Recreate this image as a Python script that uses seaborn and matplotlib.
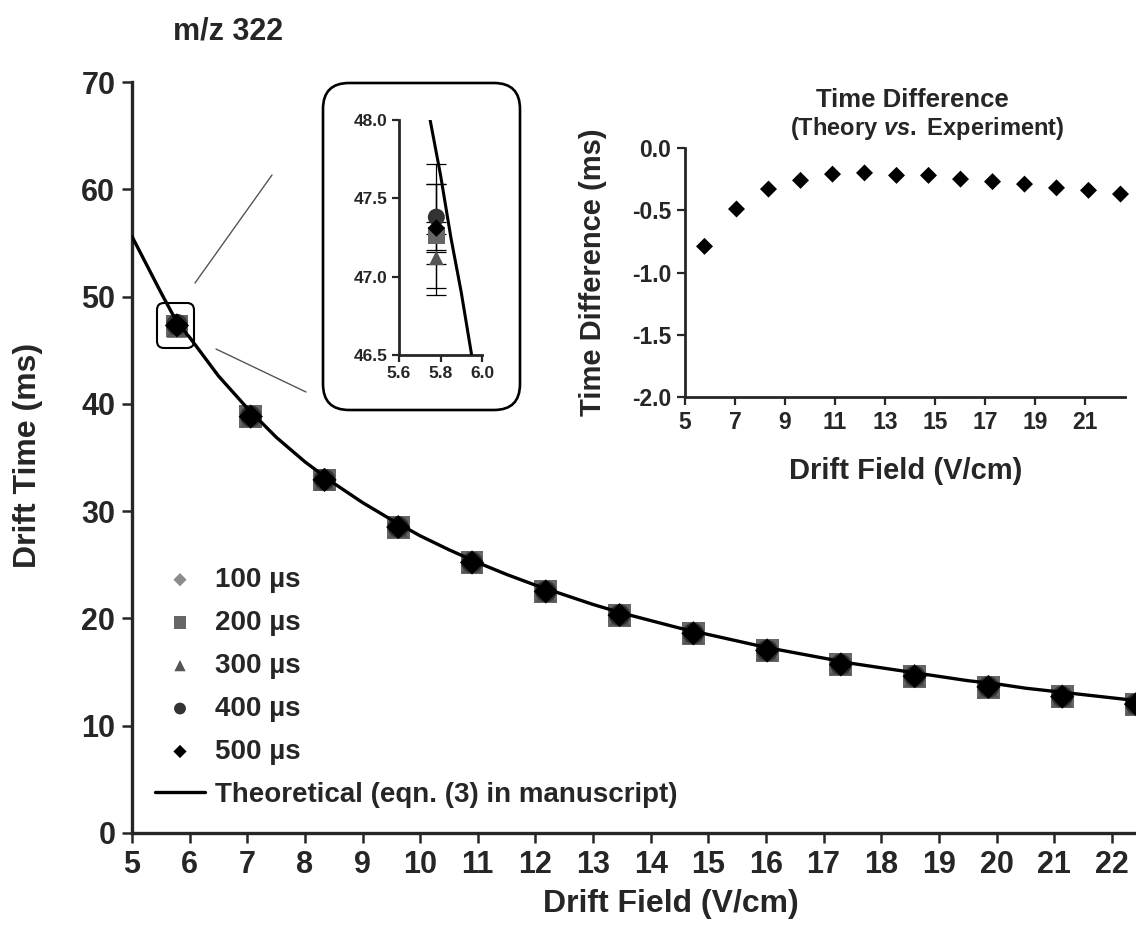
import numpy as np
import pandas as pd
import seaborn as sns
import matplotlib
matplotlib.use("Agg")
import matplotlib.pyplot as plt
from matplotlib.patches import FancyBboxPatch
from matplotlib.lines import Line2D

sns.set_theme(style="ticks")
plt.rcParams['font.family'] = ['Liberation Sans', 'DejaVu Sans']
plt.rcParams['font.weight'] = 'bold'
plt.rcParams['mathtext.fontset'] = 'custom'
plt.rcParams['mathtext.it'] = 'Liberation Sans:italic:bold'
plt.rcParams['mathtext.rm'] = 'Liberation Sans:bold'

# drift field (V/cm)
field = [5.78, 7.06, 8.34, 9.62, 10.90, 12.18, 13.46, 14.74, 16.02, 17.30, 18.58, 19.86, 21.14, 22.42]

# drift times (ms) for each pulse width
t100 = [47.30, 38.82, 32.92, 28.52, 25.22, 22.52, 20.32, 18.62, 17.02, 15.72, 14.62, 13.62, 12.72, 12.02]
t200 = [47.26, 38.80, 32.90, 28.50, 25.20, 22.50, 20.30, 18.60, 17.00, 15.70, 14.60, 13.60, 12.70, 12.00]
t300 = [47.12, 38.75, 32.86, 28.47, 25.18, 22.48, 20.28, 18.58, 16.98, 15.68, 14.58, 13.58, 12.68, 11.98]
t400 = [47.38, 38.85, 32.94, 28.53, 25.22, 22.52, 20.31, 18.61, 17.01, 15.71, 14.61, 13.61, 12.71, 12.01]
t500 = [47.31, 38.81, 32.91, 28.51, 25.21, 22.51, 20.31, 18.61, 17.01, 15.71, 14.61, 13.61, 12.71, 12.01]

# std dev at the first field (only visible in the zoom inset)
err_first = [0.42, 0.33, 0.04, 0.21, 0.04]

# theoretical curve
theo_x = [5.0, 5.5, 5.7, 5.75, 5.8, 5.85, 5.9, 5.95, 6.0, 6.5, 7.0, 7.5, 8.0, 8.5, 9.0, 9.5, 10.0, 10.5,
          11.0, 11.5, 12.0, 12.5, 13.0, 13.5, 14.0, 14.5, 15.0, 15.5, 16.0, 16.5, 17.0, 17.5,
          18.0, 18.5, 19.0, 19.5, 20.0, 20.5, 21.0, 21.5, 22.0, 22.5]
theo_t = [55.6, 50.4, 48.4, 48.0, 47.65, 47.25, 46.9, 46.5, 46.2, 42.6, 39.6, 36.9, 34.6, 32.6, 30.8, 29.2, 27.7, 26.4,
          25.2, 24.1, 23.1, 22.2, 21.3, 20.5, 19.8, 19.1, 18.5, 17.9, 17.3, 16.8, 16.3, 15.8,
          15.4, 15.0, 14.6, 14.2, 13.9, 13.5, 13.2, 12.9, 12.6, 12.3]

# experiment - theory (ms)
time_diff = [-0.79, -0.49, -0.33, -0.26, -0.21, -0.20, -0.22, -0.22, -0.25, -0.27, -0.29, -0.32, -0.34, -0.37]

labels = ["100 µs", "200 µs", "300 µs", "400 µs", "500 µs"]
series = [t100, t200, t300, t400, t500]
markers = ["D", "s", "^", "o", "D"]
colors = ["#8c8c8c", "#666666", "#555555", "#333333", "#000000"]
main_sizes = [150, 270, 220, 240, 150]
inset_sizes = [70, 150, 110, 150, 80]

W, H = 1136, 932
fig = plt.figure(figsize=(W / 100, H / 100), dpi=100)

def fx(px):
    return px / W

def fy(py):
    return (H - py) / H

# ---------------- main plot
ax = fig.add_axes([fx(132), fy(833), fx(1136) - fx(132), fy(82) - fy(833)])
for lab, t, m, c, s in zip(labels, series, markers, colors, main_sizes):
    sns.scatterplot(x=field, y=t, marker=m, color=c, s=s, edgecolor="none", ax=ax, label=lab, zorder=3, clip_on=False)
sns.lineplot(x=theo_x, y=theo_t, color="black", lw=2.4, ax=ax, label="Theoretical (eqn. (3) in manuscript)", zorder=4)

ax.set_xlim(5, 22.42)
ax.set_ylim(0, 70)
ax.set_xticks(range(5, 23))
ax.set_yticks(range(0, 71, 10))
for sp in ["top", "right"]:
    ax.spines[sp].set_visible(False)
for sp in ["left", "bottom"]:
    ax.spines[sp].set_linewidth(2.4)
ax.tick_params(direction="out", length=7, width=1.8, labelsize=22, pad=5)
ax.set_xlabel("Drift Field (V/cm)", fontsize=23, fontweight="bold")
ax.set_ylabel("Drift Time (ms)", fontsize=23, fontweight="bold")
ax.xaxis.set_label_coords(0.537, -0.074)
ax.yaxis.set_label_coords(-0.089, 0.503)

h, l = ax.get_legend_handles_labels()
leg = ax.legend(h, l, loc="upper left", bbox_to_anchor=(fx(155), fy(567)), bbox_transform=fig.transFigure,
                frameon=False, fontsize=20, markerscale=0.55, handlelength=1.8, handletextpad=0.35,
                labelspacing=0.61, borderpad=0, borderaxespad=0)
for txt in leg.get_texts():
    txt.set_fontweight("bold")

fig.text(fx(228), fy(32), "m/z 322", fontsize=22, fontweight="bold", ha="center", va="center")

# ---------------- zoom inset
box = FancyBboxPatch((fx(323), fy(410)), fx(520) - fx(323), fy(83) - fy(410),
                     boxstyle="round,pad=0,rounding_size=" + str(fx(26)), mutation_aspect=W / H,
                     transform=fig.transFigure, fc="white", ec="black", lw=1.9, zorder=5)
fig.patches.append(box)
small = FancyBboxPatch((fx(157), fy(348)), fx(194) - fx(157), fy(303) - fy(348),
                       boxstyle="round,pad=0,rounding_size=" + str(fx(7)), mutation_aspect=W / H,
                       transform=fig.transFigure, fc="none", ec="black", lw=1.5, zorder=5)
fig.patches.append(small)
fig.lines.append(Line2D([fx(195), fx(272)], [fy(283), fy(175)], transform=fig.transFigure, color="#555555", lw=1))
fig.lines.append(Line2D([fx(216), fx(306)], [fy(349), fy(392)], transform=fig.transFigure, color="#555555", lw=1))

axi = fig.add_axes([fx(399), fy(355), fx(482) - fx(399), fy(120) - fy(355)], zorder=6)
axi.patch.set_alpha(0)
for lab, t, e, m, c, s in zip(labels, series, err_first, markers, colors, inset_sizes):
    axi.errorbar(field[0], t[0], yerr=e, fmt="none", ecolor="black", elinewidth=0.9, capsize=7, capthick=0.9, zorder=2)
for lab, t, m, c, s in zip(labels, series, markers, colors, inset_sizes):
    sns.scatterplot(x=[field[0]], y=[t[0]], marker=m, color=c, s=s, edgecolor="none", ax=axi, zorder=3)
sns.lineplot(x=theo_x, y=theo_t, color="black", lw=2.2, ax=axi, zorder=4)
axi.set_xlim(5.6, 6.0)
axi.set_ylim(46.5, 48.0)
axi.set_xticks([5.6, 5.8, 6.0])
axi.set_yticks([46.5, 47.0, 47.5, 48.0])
axi.xaxis.set_major_formatter(matplotlib.ticker.FormatStrFormatter("%.1f"))
axi.yaxis.set_major_formatter(matplotlib.ticker.FormatStrFormatter("%.1f"))
for sp in ["top", "right"]:
    axi.spines[sp].set_visible(False)
for sp in ["left", "bottom"]:
    axi.spines[sp].set_linewidth(2)
axi.tick_params(direction="out", length=5, width=1.6, labelsize=12.5, pad=3)

# ---------------- time difference inset
axd = fig.add_axes([fx(685), fy(397), fx(1125) - fx(685), fy(148) - fy(397)])
sns.scatterplot(x=field, y=time_diff, marker="D", color="black", s=75, edgecolor="none", ax=axd, clip_on=False)
axd.set_xlim(5, 22.6)
axd.set_ylim(-2.0, 0.0)
axd.set_xticks(range(5, 22, 2))
axd.set_yticks([-2.0, -1.5, -1.0, -0.5, 0.0])
axd.yaxis.set_major_formatter(matplotlib.ticker.FormatStrFormatter("%.1f"))
for sp in ["top", "right"]:
    axd.spines[sp].set_visible(False)
for sp in ["left", "bottom"]:
    axd.spines[sp].set_linewidth(2)
axd.tick_params(direction="out", length=6, width=1.6, labelsize=16.5, pad=4)
axd.set_xlabel("Drift Field (V/cm)", fontsize=21, fontweight="bold")
axd.set_ylabel("Time Difference (ms)", fontsize=21, fontweight="bold")
axd.xaxis.set_label_coords(0.502, -0.24)
axd.yaxis.set_label_coords(-0.178, 0.502)
fig.text(fx(912), fy(100), "Time Difference", fontsize=18.5, fontweight="bold", ha="center", va="center")
fig.text(fx(927), fy(128), r"(Theory $\mathit{vs.}$ Experiment)", fontsize=17, fontweight="bold", ha="center", va="center")

fig.savefig("out.png", dpi=100)
